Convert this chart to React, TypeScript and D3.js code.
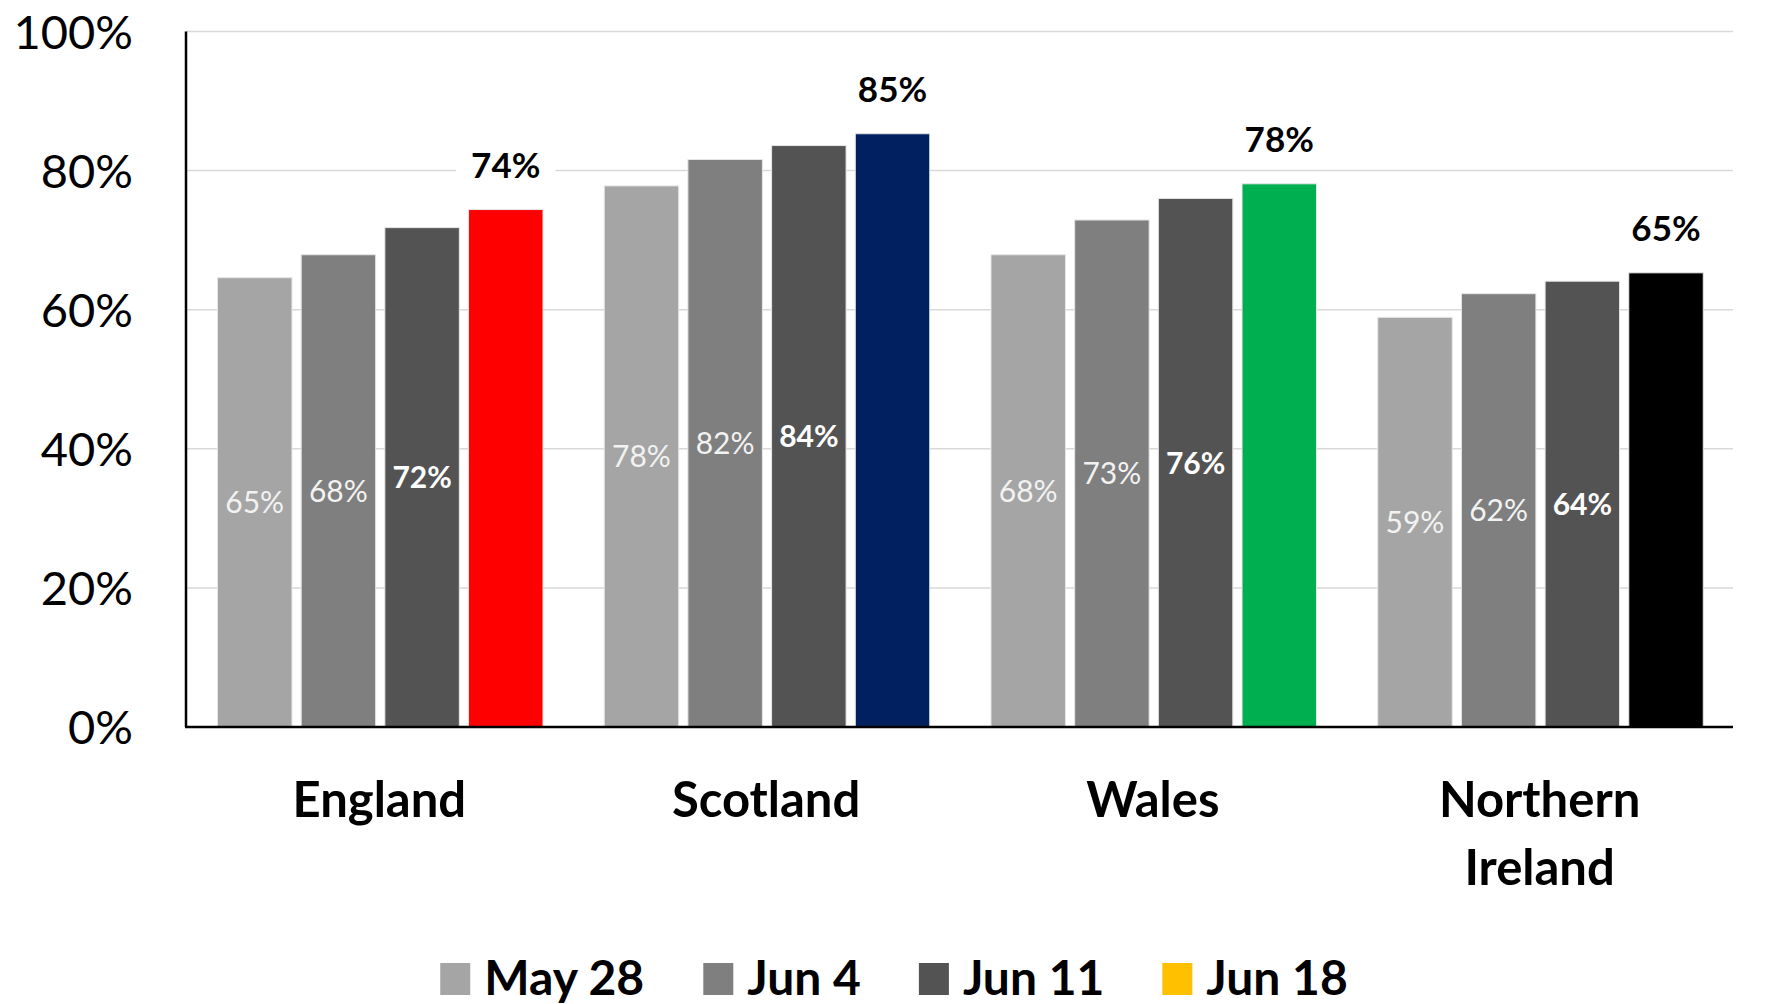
import React from 'react';
import * as d3 from 'd3';

const categories = ['England', 'Scotland', 'Wales', 'Northern Ireland'];
const categoryLines = [['England'], ['Scotland'], ['Wales'], ['Northern', 'Ireland']];
const seriesNames = ['May 28', 'Jun 4', 'Jun 11', 'Jun 18'];
const may28 = [64.6, 77.8, 67.9, 58.9];
const jun4 = [67.9, 81.6, 72.9, 62.3];
const jun11 = [71.8, 83.6, 76.0, 64.1];
const jun18 = [74.4, 85.3, 78.1, 65.3];
const yTicks = [0, 20, 40, 60, 80, 100];
const greyColors = ['#A5A5A5', '#7F7F7F', '#535353'];
const jun18Colors = ['#FF0000', '#002060', '#00B050', '#000000'];
const jun18LegendColor = '#FFC000';

const W = 1767;
const H = 1004;
const FONT = 'Lato, "Open Sans", sans-serif';

function measure(text: string, size: number, weight: string | number) {
  if (typeof document === 'undefined') return text.length * size * 0.55;
  const c = document.createElement('canvas');
  const ctx = c.getContext('2d');
  if (!ctx) return text.length * size * 0.55;
  ctx.font = `${weight} ${size}px Lato, "Open Sans", sans-serif`;
  return ctx.measureText(text).width;
}

export default function App() {
  const seriesValues = [may28, jun4, jun11, jun18];
  const plotLeft = 186;
  const plotRight = 1733;
  const y = d3.scaleLinear().domain([0, 100]).range([727, 31.5]);
  const x0 = d3.scaleBand<string>().domain(categories).range([plotLeft, plotRight]).paddingInner(0).paddingOuter(0);
  const x1 = d3.scaleBand<string>().domain(seriesNames).range([31.5, 357]).paddingInner(0.11);

  const legendFs = 48;
  const sw = 30;
  const swGap = 14;
  const itemGap = 58;
  const widths = seriesNames.map((s) => measure(s, legendFs, 700));
  const total = widths.reduce((a, w) => a + sw + swGap + w, 0) + itemGap * (seriesNames.length - 1);
  let lx = 894 - total / 2;
  const legendItems = seriesNames.map((s, i) => {
    const item = { name: s, x: lx, color: i < 3 ? greyColors[i] : jun18LegendColor };
    lx += sw + swGap + widths[i] + itemGap;
    return item;
  });

  return (
    <svg width={W} height={H} style={{ position: 'absolute', left: 0, top: 0, background: '#fff' }} fontFamily={FONT}>
      <rect x={0} y={0} width={W} height={H} fill="#fff" />
      {yTicks.filter((t) => t > 0).map((t) => (
        <line key={'g' + t} x1={plotLeft} x2={plotRight} y1={y(t)} y2={y(t)} stroke="#D9D9D9" strokeWidth={1.5} />
      ))}
      {yTicks.map((t) => (
        <text key={'t' + t} x={133} y={y(t) + 17} textAnchor="end" fontSize={47} fill="#000">
          {t + '%'}
        </text>
      ))}
      {categories.map((c, ci) => (
        <g key={c} transform={`translate(${x0(c)},0)`}>
          {seriesNames.map((s, si) => {
            const v = seriesValues[si][ci];
            const bx = x1(s) as number;
            const bw = x1.bandwidth();
            const top = y(v);
            const fill = si < 3 ? greyColors[si] : jun18Colors[ci];
            return (
              <rect key={s} x={bx} y={top} width={bw} height={y(0) - top} fill={fill} stroke="#E6E6E6" strokeWidth={1} />
            );
          })}
        </g>
      ))}
      {categories.map((c, ci) => (
        <g key={'l' + c} transform={`translate(${x0(c)},0)`}>
          {seriesNames.map((s, si) => {
            const v = seriesValues[si][ci];
            const bx = (x1(s) as number) + x1.bandwidth() / 2;
            const top = y(v);
            const label = Math.round(v) + '%';
            if (si < 3) {
              const mid = (top + y(0)) / 2;
              return (
                <text key={s} x={bx} y={mid + 11} textAnchor="middle" fontSize={30}
                  fontWeight={si === 2 ? 700 : 400} fill={si === 2 ? '#FFFFFF' : '#F2F2F2'}>
                  {label}
                </text>
              );
            }
            const tw = measure(label, 35, 700);
            const base = top - 32;
            return (
              <g key={s}>
                <rect x={bx - tw / 2 - 15} y={base - 33} width={tw + 30} height={42} fill="#fff" />
                <text x={bx} y={base} textAnchor="middle" fontSize={35} fontWeight={700} fill="#000">
                  {label}
                </text>
              </g>
            );
          })}
        </g>
      ))}
      <line x1={plotLeft} x2={plotLeft} y1={y(100)} y2={y(0)} stroke="#000" strokeWidth={2.5} />
      <line x1={plotLeft - 1} x2={plotRight} y1={y(0)} y2={y(0)} stroke="#000" strokeWidth={2.5} />
      {categories.map((c, ci) => (
        <text key={'c' + c} x={(x0(c) as number) + x0.bandwidth() / 2} y={817} textAnchor="middle" fontSize={49} fontWeight={700} fill="#000">
          {categoryLines[ci].map((ln, li) => (
            <tspan key={li} x={(x0(c) as number) + x0.bandwidth() / 2} dy={li === 0 ? 0 : 68}>
              {ln}
            </tspan>
          ))}
        </text>
      ))}
      {legendItems.map((it) => (
        <g key={it.name}>
          <rect x={it.x} y={963} width={sw} height={32} fill={it.color} />
          <text x={it.x + sw + swGap} y={995} fontSize={legendFs} fontWeight={700} fill="#000">
            {it.name}
          </text>
        </g>
      ))}
    </svg>
  );
}
